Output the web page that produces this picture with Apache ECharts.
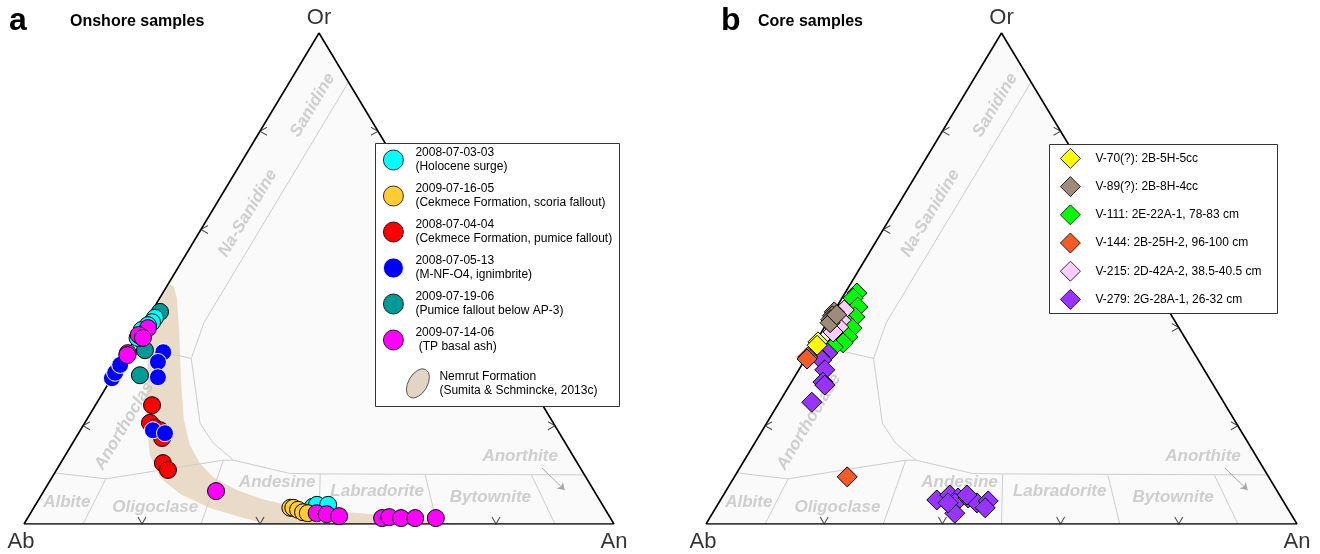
<!DOCTYPE html>
<html><head><meta charset="utf-8">
<script src="https://cdn.jsdelivr.net/npm/echarts@6/dist/echarts.min.js"></script>
<style>html,body{margin:0;padding:0;background:#fff}#c{width:1320px;height:554px}</style>
</head><body><div id="c"></div>
<script>
// ---- DATA: feldspar compositions as [An, Or] mol% (Ab = 100 - An - Or) ----
// Panel a: onshore samples
const s080703 = [[1.2,42.0],[1.15,41.1],[0.75,40.5],[0.2,39.5],[0.3,37.9],[47.2,3.5],[47.7,3.9],[49.6,3.9]];
const s090716 = [[43.5,3.3],[44.0,3.3],[45.0,2.9],[46.1,2.4],[47.0,2.2]];
const s080704 = [[9.6,24.2],[11.05,20.6],[12.4,19.6],[13.5,19.1],[14.65,17.5],[17.35,12.4],[18.9,11.0]];
const s080513 = [[6.1,35.0],[6.2,33.0],[7.75,29.9],[0.05,29.7],[0.05,30.8],[0.1,32.4],[12.3,19.1],[14.65,18.5]];
const s090719 = [[1.45,43.2],[2.8,35.4],[4.5,30.3]];
const s090714 = [[1.05,39.9],[0.2,38.5],[1.2,37.9],[0.2,34.8],[0.3,34.4],[29.2,6.7],[48.5,2.2],[50.3,2.0],[52.6,1.6],[60.1,1.2],[61.2,1.4],[63.3,1.2],[65.7,1.2],[69.2,1.2]];
const onshoreNames = ['2008-07-03-03','2009-07-16-05','2008-07-04-04','2008-07-05-13','2009-07-19-06','2009-07-14-06'];
const onshoreNotes = ['(Holocene surge)','(Cekmece Formation, scoria fallout)','(Cekmece Formation, pumice fallout)','(M-NF-O4, ignimbrite)','(Pumice fallout below AP-3)',' (TP basal ash)'];
// Nemrut Formation field outline [An, Or]
const nemrutField = [[0.3,48.9],[0.25,45.6],[1.95,39.5],[5.15,31.4],[10.1,21.2],[14.3,14.05],[18.35,9.4],[23.4,6.1],[29.9,3.26],[35.9,1.43],[41.2,0],
  [72.5,0],[66.6,1.02],[57.6,2.04],[48.75,2.85],[42.65,3.87],[37.8,5.09],[32.6,6.92],[27.2,9.57],[23.6,12.4],[20.05,16.1],[16.5,21.2],[11.95,29.3],[6.55,39.5],[2.9,46.0],[1.25,48.3]];
// Panel b: core samples
const v70 = [[0.4,37.1],[0.6,36.4]];
const v89 = [[0.1,43.2],[0.2,42.4],[0.3,41.6],[0.5,41.0],[0.8,42.6]];
const v111 = [[2.0,47.05],[1.9,46.0],[3.6,44.2],[4.1,42.2],[3.45,40.9],[4.75,39.9],[3.45,39.1],[4.95,38.1],[3.65,37.1],[4.75,36.9],[3.5,36.05]];
const v144 = [[0.2,34.0],[0.3,33.6],[19.1,9.6]];
const v215 = [[1.6,43.6],[2.1,41.5],[2.4,40.1],[1.95,39.1]];
const v279 = [[3.2,34.8],[2.3,34.0],[2.9,33.4],[4.4,31.4],[5.35,28.9],[5.95,28.3],[5.5,24.8],[36.6,4.9],[38.3,5.9],[40.0,5.3],[40.0,4.3],[41.7,5.3],[43.7,4.3],[45.4,4.7],[45.6,3.3],[41.0,2.2],[38.8,4.3],[41.2,5.9]];
const coreNames = ['V-70(?): 2B-5H-5cc','V-89(?): 2B-8H-4cc','V-111: 2E-22A-1, 78-83 cm','V-144: 2B-25H-2, 96-100 cm','V-215: 2D-42A-2, 38.5-40.5 cm','V-279: 2G-28A-1, 26-32 cm'];
// Feldspar field boundaries [An, Or]
const boundaries = [
  [[10,90],[10,41],[11.5,33.7]],
  [[0,36.6],[11.5,33.7]],
  [[11.5,33.7],[19.6,20.5],[23.8,16.5],[29.0,13.0]],
  [[0,10.4],[9.3,9.2],[27.3,13.0],[29.0,13.0],[39.9,10.3],[45.1,10.2],[90,10]],
  [[9.3,9.2],[10,0]],
  [[27.3,13.0],[30,0]],
  [[45.1,10.2],[50,0]],
  [[63,10],[70,0]],
  [[81,10],[90,0]]
];
const fieldLabels = [
  {name:'Sanidine', pos:[6.3,85.3], rot:59},
  {name:'Na-Sanidine', pos:[6.3,63.3], rot:59},
  {name:'Anorthoclase', pos:[7.0,20.8], rot:59},
  {name:'Albite', pos:[5.0,4.5], rot:0},
  {name:'Oligoclase', pos:[20.5,3.5], rot:0},
  {name:'Andesine', pos:[38.7,8.4], rot:0},
  {name:'Labradorite', pos:[56.5,6.7], rot:0},
  {name:'Bytownite', pos:[76.3,5.5], rot:0},
  {name:'Anorthite', pos:[77.2,13.8], rot:0}
];
const anorthiteArrow = [[82.1,11.4],[88.2,6.9]];
const edgeTicks = [20,40,60,80];
const vertices = [{name:'Or', pos:[0,100]},{name:'Ab', pos:[0,0]},{name:'An', pos:[100,0]}];

// ---- helpers ----
const xy = p => [p[0] + p[1] / 2, p[1]];
const FONT = "'Liberation Sans', Arial, sans-serif";

function polygon(g, pts, style, z, name) {
  return {type:'custom', name, xAxisIndex:g, yAxisIndex:g, silent:true, z, animation:false,
    itemStyle:{color:style.fill},
    data: pts.map(xy),
    renderItem(params, api) {
      if (params.dataIndex !== 0) return null;
      return {type:'polygon', shape:{points: pts.map(p => api.coord(xy(p)))}, style};
    }};
}
function panelFrame(g) {
  const out = [];
  out.push(polygon(g, [[0,0],[100,0],[0,100]], {fill:'#fafafa'}, 1));
  boundaries.forEach(b => out.push({type:'line', xAxisIndex:g, yAxisIndex:g, data:b.map(xy), symbol:'none', silent:true, z:3, animation:false,
    lineStyle:{color:'#cdcdcd', width:1}}));
  out.push({type:'scatter', xAxisIndex:g, yAxisIndex:g, silent:true, z:4, animation:false, symbolSize:1, itemStyle:{color:'rgba(0,0,0,0)'},
    data: fieldLabels.map(l => ({name:l.name, value:xy(l.pos), label:{rotate:l.rot}})),
    label:{show:true, position:'inside', formatter:'{b}', fontSize:17, fontWeight:'bold', fontStyle:'italic', color:'#c3c3c3', fontFamily:FONT}});
  out.push({type:'lines', coordinateSystem:'cartesian2d', xAxisIndex:g, yAxisIndex:g, silent:true, z:4, animation:false,
    symbol:['none','arrow'], symbolSize:7, lineStyle:{color:'#a8a8a8', width:1, opacity:1},
    data:[{coords: anorthiteArrow.map(xy)}]});
  out.push({type:'line', xAxisIndex:g, yAxisIndex:g, data:[[0,0],[100,0],[0,100],[0,0]].map(xy), symbol:'none', silent:true, z:5, animation:false,
    lineStyle:{color:'#000', width:1.6}});
  const tickStyle = {color:'none', borderColor:'#222', borderWidth:1};
  out.push({type:'scatter', xAxisIndex:g, yAxisIndex:g, silent:true, z:5, animation:false, itemStyle:tickStyle,
    symbol:'path://M0,0L4,7L8,0', symbolSize:[8,7], symbolOffset:[0,-3.5], data: edgeTicks.map(t => xy([t,0]))});
  out.push({type:'scatter', xAxisIndex:g, yAxisIndex:g, silent:true, z:5, animation:false, itemStyle:tickStyle,
    symbol:'path://M8,0L0,4L8,8', symbolSize:[7,8], symbolOffset:[3.5,0], data: edgeTicks.map(t => xy([0,t]))});
  out.push({type:'scatter', xAxisIndex:g, yAxisIndex:g, silent:true, z:5, animation:false, itemStyle:tickStyle,
    symbol:'path://M0,0L8,4L0,8', symbolSize:[7,8], symbolOffset:[-3.5,0], data: edgeTicks.map(t => xy([100-t,t]))});
  out.push({type:'scatter', xAxisIndex:g, yAxisIndex:g, silent:true, z:5, animation:false, symbolSize:1, itemStyle:{color:'rgba(0,0,0,0)'},
    data: vertices.map(v => ({name:v.name, value:xy(v.pos),
      label: v.name === 'Or' ? {position:'top', distance:4} : {position:'bottom', distance:6, offset: v.name === 'Ab' ? [-3,0] : [0,0]}})),
    label:{show:true, formatter:'{b}', fontSize:22, color:'#000', fontFamily:FONT}});
  return out;
}
function pts(g, name, data, symbol, size, color, border, z) {
  return {type:'scatter', name, xAxisIndex:g, yAxisIndex:g, data:data.map(xy), symbol, symbolSize:size, z, animation:false,
    itemStyle:{color, borderColor:border, borderWidth:1, opacity:1}};
}

const onshoreColors = ['#00ffff','#ffcc33','#ff0000','#0000ff','#009b96','#ff00ff'];
const coreColors = ['#ffff00','#9e8b7a','#00ff00','#f25a26','#ffccff','#9933ff'];
const onshoreData = [s080703, s090716, s080704, s080513, s090719, s090714];
const coreData = [v70, v89, v111, v144, v215, v279];
const onshoreZ = [11, 12, 13, 14, 10, 15];
const coreZ = [13, 15, 10, 12, 14, 11];

const series = [];
series.push(...panelFrame(0), ...panelFrame(1));
series.push(polygon(0, nemrutField, {fill:'#eadbc8'}, 2, 'Nemrut Formation'));
onshoreData.forEach((d,i) => series.push(pts(0, onshoreNames[i], d, 'circle', 17, onshoreColors[i], i===3 ? '#ffffff' : '#000', onshoreZ[i])));
coreData.forEach((d,i) => series.push(pts(1, coreNames[i], d, 'diamond', 20, coreColors[i], '#000', coreZ[i])));

const ellipseIcon = 'path://M-8.5,14.72A10,17,30,1,1,8.5,-14.72A10,17,30,1,1,-8.5,14.72Z';

const chart = echarts.init(document.getElementById('c'), null, {renderer:'canvas'});
chart.setOption({
  animation:false,
  backgroundColor:'#ffffff',
  title:[
    {text:'a', left:9, top:5, padding:0, textStyle:{fontSize:32, fontWeight:'bold', fontFamily:FONT, color:'#000'}},
    {text:'Onshore samples', left:70, top:14, padding:0, textStyle:{fontSize:16, fontWeight:'bold', fontFamily:FONT, color:'#000'}},
    {text:'b', left:721, top:5, padding:0, textStyle:{fontSize:32, fontWeight:'bold', fontFamily:FONT, color:'#000'}},
    {text:'Core samples', left:758, top:14, padding:0, textStyle:{fontSize:16, fontWeight:'bold', fontFamily:FONT, color:'#000'}}
  ],
  grid:[{left:24, top:33, width:590, height:491}, {left:706, top:33, width:591, height:491}],
  xAxis:[{gridIndex:0, type:'value', min:0, max:100, show:false}, {gridIndex:1, type:'value', min:0, max:100, show:false}],
  yAxis:[{gridIndex:0, type:'value', min:0, max:100, show:false}, {gridIndex:1, type:'value', min:0, max:100, show:false}],
  graphic:[
    {type:'rect', left:375, top:143, z:50, shape:{width:244, height:263}, style:{fill:'#fff', stroke:'#333', lineWidth:1}},
    {type:'rect', left:1049, top:144, z:50, shape:{width:228, height:169}, style:{fill:'#fff', stroke:'#333', lineWidth:1}}
  ],
  legend:[
    {orient:'vertical', left:383, top:139, padding:0, itemWidth:20, itemHeight:20, itemGap:-6, z:60, selectedMode:false,
      icon:'circle', data: onshoreNames, itemStyle:{borderWidth:0.8},
      formatter: n => n + '\n' + onshoreNotes[onshoreNames.indexOf(n)],
      textStyle:{fontSize:12, lineHeight:14, fontFamily:FONT, color:'#000', padding:[14,0,0,7]}},
    {orient:'vertical', left:408, top:367, padding:0, itemWidth:27, itemHeight:32, z:60, selectedMode:false,
      data:[{name:'Nemrut Formation', icon:ellipseIcon, itemStyle:{color:'#e2d5c5', borderColor:'#333', borderWidth:0.8}}],
      formatter: () => 'Nemrut Formation\n(Sumita & Schmincke, 2013c)',
      textStyle:{fontSize:12, lineHeight:14, fontFamily:FONT, color:'#000', padding:[0,0,0,3]}},
    {orient:'vertical', left:1060, top:148, padding:0, itemWidth:20, itemHeight:20, itemGap:7.4, z:60, selectedMode:false,
      icon:'diamond', data: coreNames, itemStyle:{borderWidth:0.8},
      textStyle:{fontSize:12, fontFamily:FONT, color:'#000', padding:[0,0,0,10]}}
  ],
  series
});
</script>
</body></html>
